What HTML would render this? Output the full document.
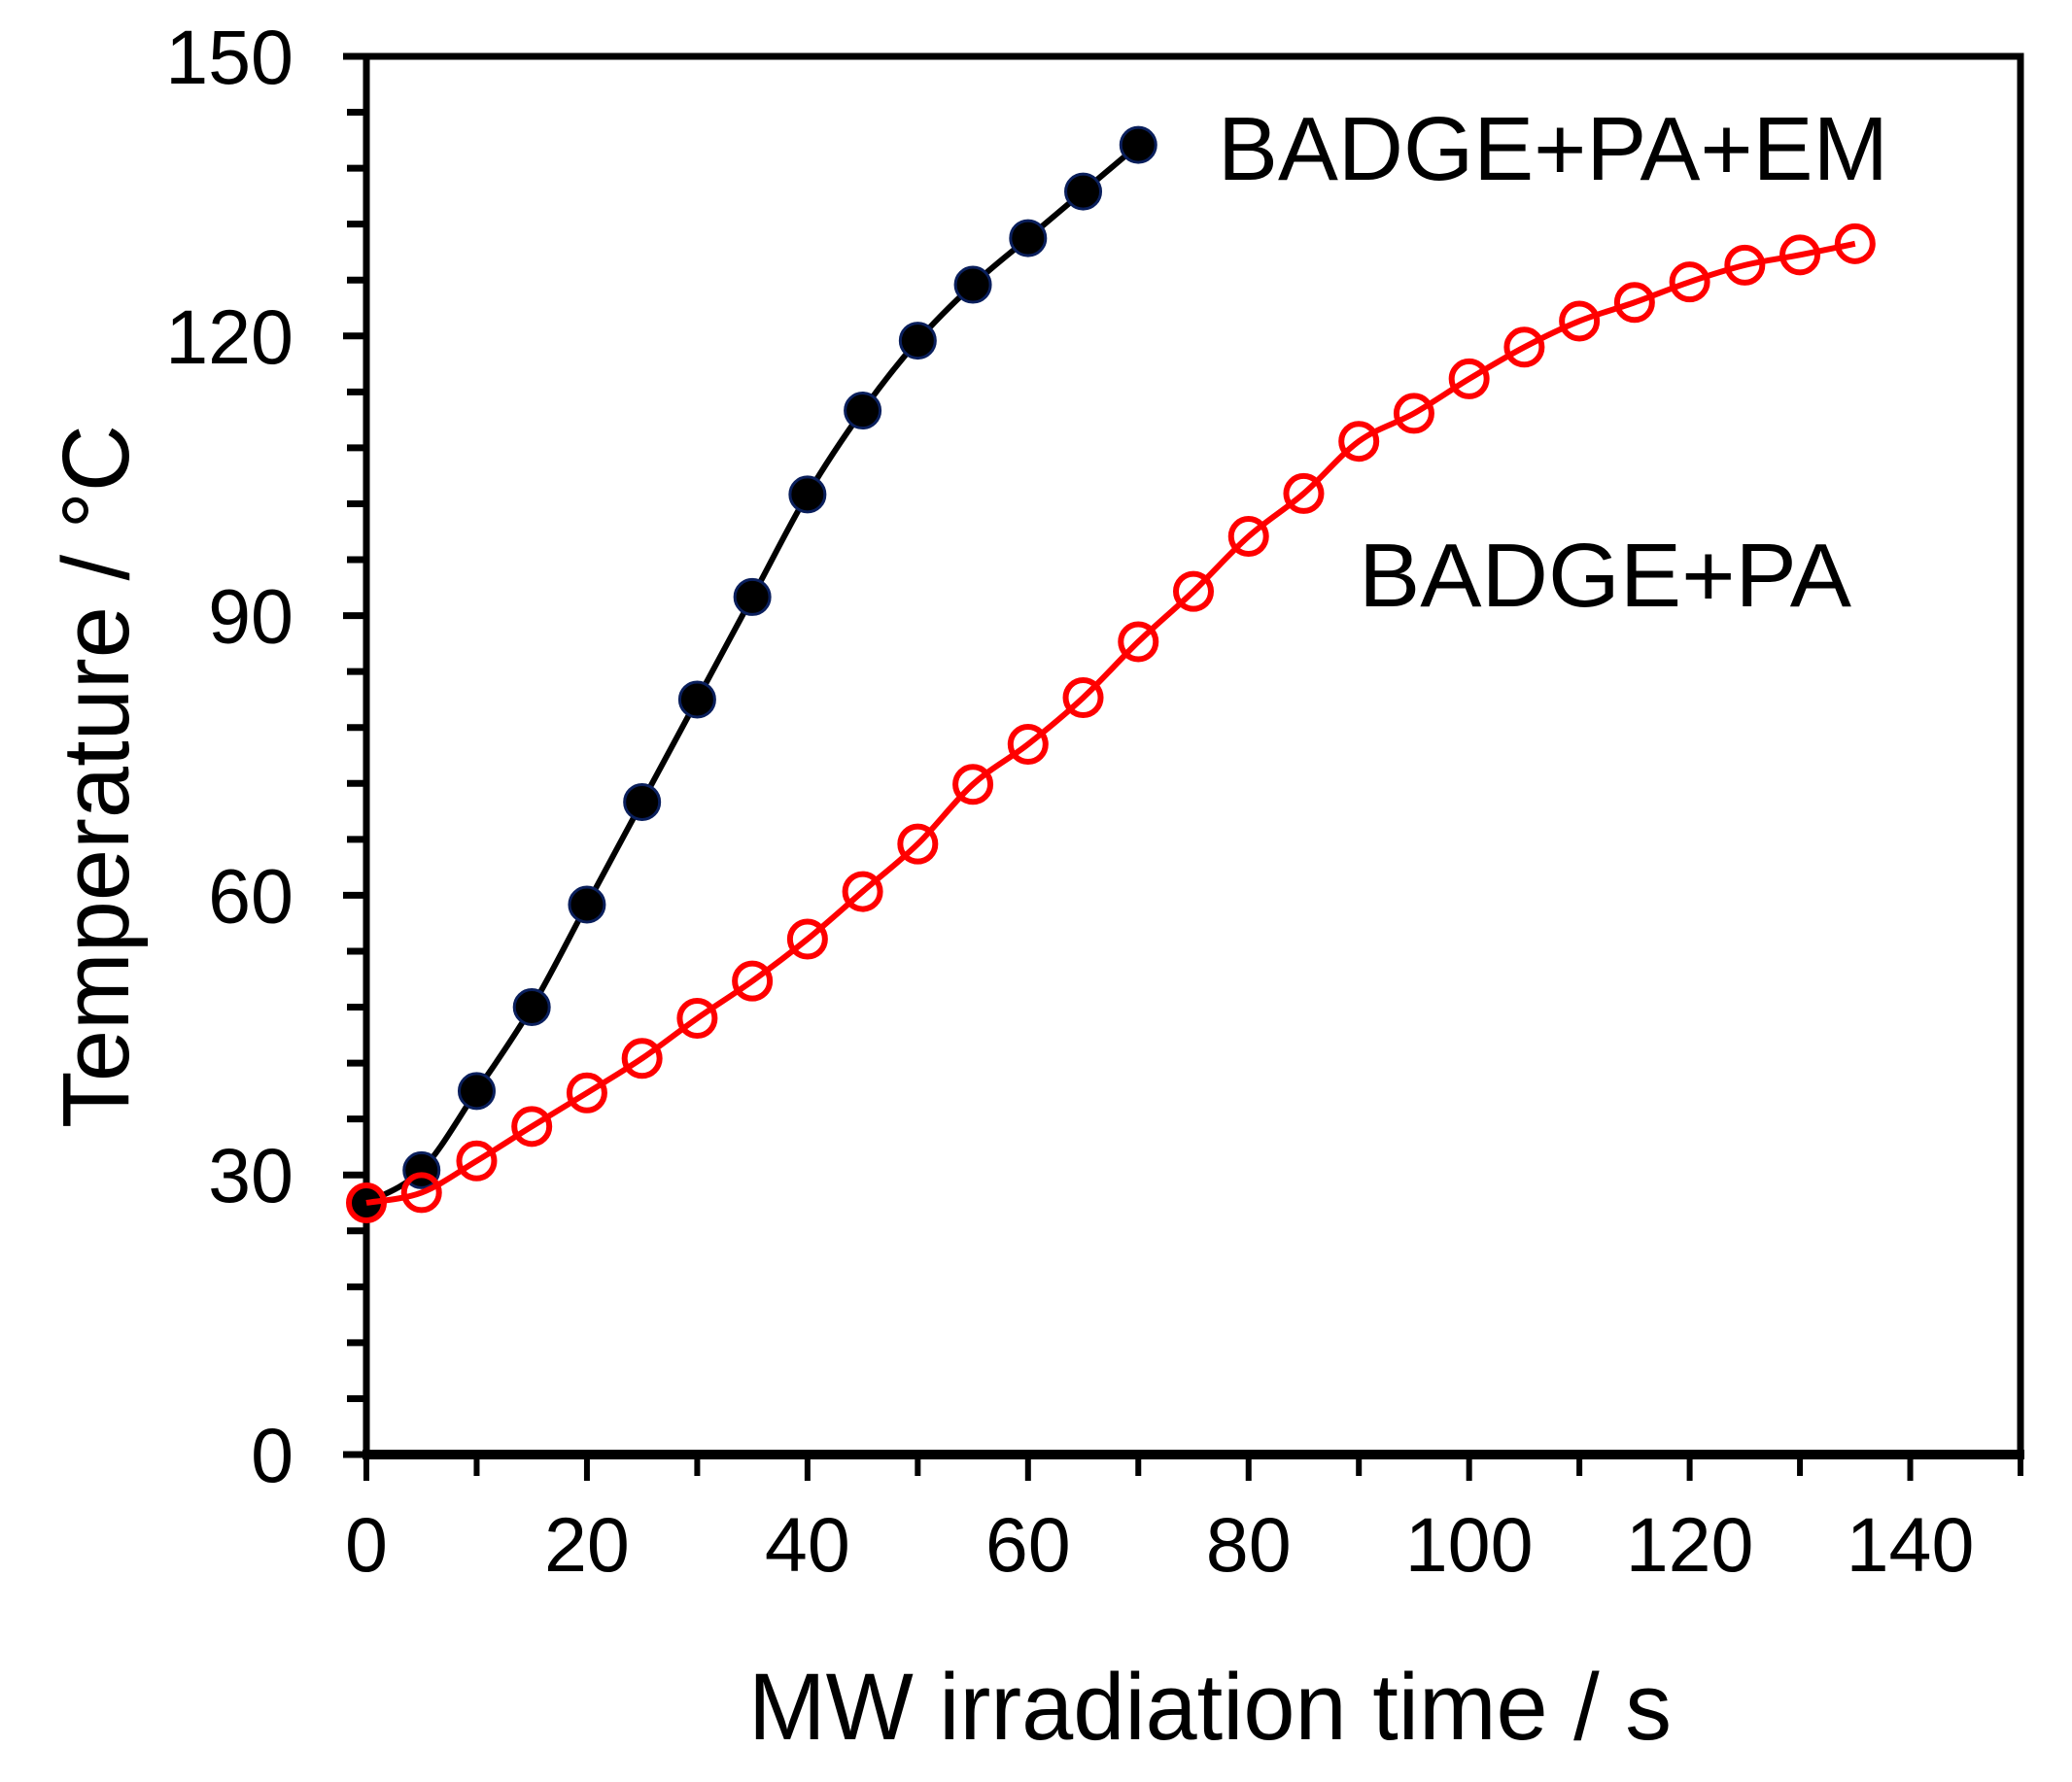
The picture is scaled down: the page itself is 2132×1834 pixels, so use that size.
<!DOCTYPE html>
<html><head><meta charset="utf-8"><style>html,body{margin:0;padding:0;background:#fff}svg{display:block}</style></head>
<body>
<svg id="chart" xmlns="http://www.w3.org/2000/svg" width="2132" height="1834" viewBox="0 0 2132 1834" font-family="Liberation Sans, Arial, sans-serif">
<g id="axes"></g>
<g id="series"></g>
<text x="1253" y="185" font-size="93" textLength="690" lengthAdjust="spacingAndGlyphs">BADGE+PA+EM</text>
<text x="1398" y="624" font-size="93" textLength="507" lengthAdjust="spacingAndGlyphs">BADGE+PA</text>
<text x="1245" y="1790" font-size="97" text-anchor="middle" textLength="950" lengthAdjust="spacingAndGlyphs">MW irradiation time / s</text>
<text transform="translate(132,799) rotate(-90)" font-size="97" text-anchor="middle" textLength="724" lengthAdjust="spacingAndGlyphs">Temperature / °C</text>
</svg>
<script>
const xTickLabels = [0, 20, 40, 60, 80, 100, 120, 140];
const yTickLabels = [0, 30, 60, 90, 120, 150];
const emTimes = [0,5,10,15,20,25,30,35,40,45,50,55,60,65,70];
const emTemps = [27,30.5,39,48,59,70,81,92,103,112,119.5,125.5,130.5,135.5,140.5];
const paTimes = [0,5,10,15,20,25,30,35,40,45,50,55,60,65,70,75,80,85,90,95,100,105,110,115,120,125,130,135];
const paTemps = [27,28.1,31.5,35.2,38.8,42.5,46.8,50.8,55.3,60.4,65.5,71.9,76.2,81.2,87.2,92.6,98.5,103.1,108.7,111.7,115.4,118.8,121.6,123.6,125.8,127.6,128.7,129.9];

const NS = 'http://www.w3.org/2000/svg';
const X0 = 377, XR = 2079, Y0 = 1497, YT = 58;
const sx = v => X0 + (XR - X0) * v / 150;
const sy = v => Y0 - (Y0 - YT) * v / 150;
function mk(tag, attrs, parent) {
  const e = document.createElementNS(NS, tag);
  for (const k in attrs) e.setAttribute(k, attrs[k]);
  parent.appendChild(e);
  return e;
}
const axes = document.getElementById('axes');
const series = document.getElementById('series');

let fr = mk('rect', {x: X0, y: YT, width: XR - X0, height: Y0 - YT, fill: 'none', stroke: '#000', 'stroke-width': 7}, axes);


let bx = mk('line', {x1: X0 - 4, x2: XR + 4, y1: Y0, y2: Y0, stroke: '#000', 'stroke-width': 10}, axes);



for (let v = 0; v <= 150; v += 6) {
  const major = v % 30 === 0;
  const t = mk('line', {x1: major ? X0 - 24 : X0 - 20, x2: X0, y1: sy(v), y2: sy(v), stroke: '#000', 'stroke-width': 7}, axes);
  
  
}
yTickLabels.forEach(v => {
  const t = mk('text', {x: 302, y: sy(v) + 28, 'font-size': 79, 'text-anchor': 'end'}, axes);
  t.textContent = v;
  
  
});
for (let v = 0; v <= 150; v += 10) {
  const major = v % 20 === 0;
  const t = mk('line', {x1: sx(v), x2: sx(v), y1: Y0, y2: major ? Y0 + 27 : Y0 + 22, stroke: '#000', 'stroke-width': 6}, axes);
  
  
}
xTickLabels.forEach(v => {
  const t = mk('text', {x: sx(v), y: 1617, 'font-size': 79, 'text-anchor': 'middle'}, axes);
  t.textContent = v;
  
  
});

function smoothPath(xs, ys) {
  const p = xs.map((x, i) => [sx(x), sy(ys[i])]);
  let d = 'M' + p[0][0] + ',' + p[0][1];
  for (let i = 0; i < p.length - 1; i++) {
    const a = p[i - 1] || p[i], b = p[i], c = p[i + 1], e = p[i + 2] || c;
    const c1 = [b[0] + (c[0] - a[0]) / 6, b[1] + (c[1] - a[1]) / 6];
    const c2 = [c[0] - (e[0] - b[0]) / 6, c[1] - (e[1] - b[1]) / 6];
    d += ' C' + c1 + ' ' + c2 + ' ' + c;
  }
  return d;
}

let l1 = mk('path', {d: smoothPath(emTimes, emTemps), fill: 'none', stroke: '#000', 'stroke-width': 6}, series);


emTimes.forEach((x, i) => {
  const c = mk('circle', {cx: sx(x), cy: sy(emTemps[i]), r: 18, fill: '#000', stroke: '#0a1f5c', 'stroke-width': 3}, series);
  
  
});
let l2 = mk('path', {d: smoothPath(paTimes, paTemps), fill: 'none', stroke: '#ff0000', 'stroke-width': 6}, series);


paTimes.forEach((x, i) => {
  const c = mk('circle', {cx: sx(x), cy: sy(paTemps[i]), r: 18, fill: 'none', stroke: '#ff0000', 'stroke-width': 6}, series);
  
  
});
</script>
</body></html>
